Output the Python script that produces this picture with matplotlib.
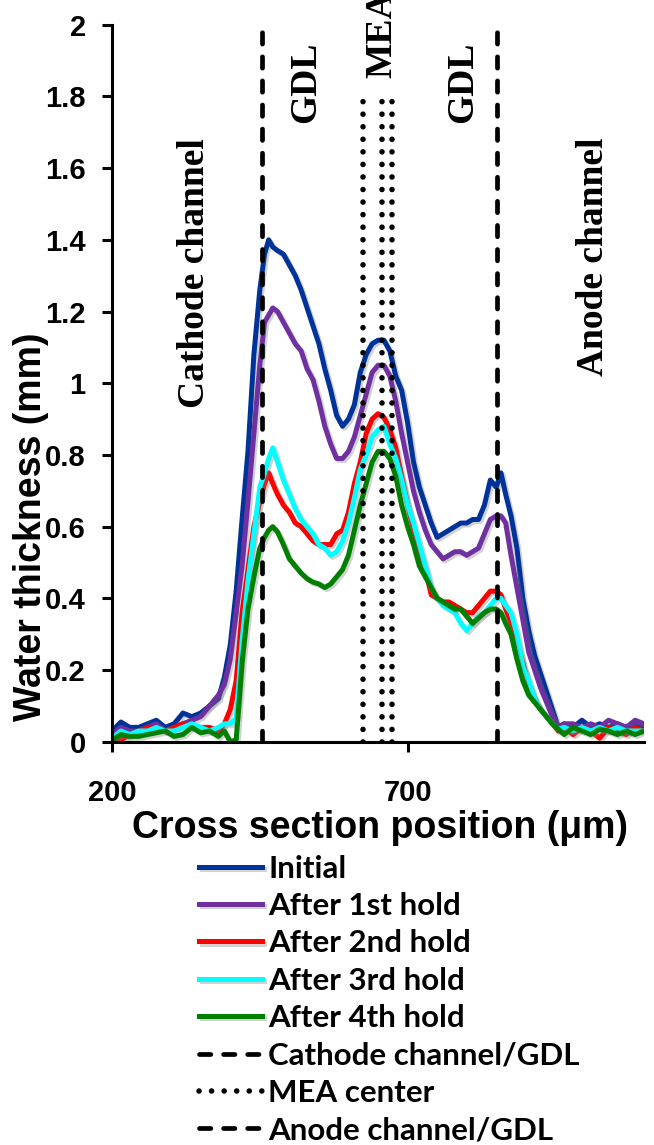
import matplotlib
matplotlib.use("Agg")
import matplotlib.pyplot as plt
import matplotlib.patheffects as pe

# cross section position (um)
pos = [200, 215, 230, 245, 260, 275, 290, 305, 320, 335, 350, 365, 380, 390,
       400, 410, 420, 430, 440, 450, 458, 465, 472, 480, 490, 500, 510, 520,
       530, 540, 550, 560, 570, 580, 590, 600, 610, 620, 630, 640, 650, 660,
       670, 680, 690, 700, 710, 720, 730, 740, 750, 760, 770, 780, 790, 800,
       810, 820, 830, 840, 850, 858, 866, 875, 885, 895, 905, 915, 925, 935,
       945, 955, 965, 980, 995, 1010, 1025, 1040, 1055, 1070, 1085, 1100]

initial = [0.03, 0.055, 0.04, 0.04, 0.05, 0.06, 0.04, 0.05, 0.08, 0.07, 0.08, 0.10, 0.12, 0.18,
           0.27, 0.42, 0.62, 0.81, 1.08, 1.26, 1.36, 1.40, 1.38, 1.37, 1.36, 1.33, 1.30, 1.26,
           1.21, 1.16, 1.11, 1.04, 0.98, 0.91, 0.88, 0.90, 0.94, 1.03, 1.08, 1.11, 1.12, 1.12,
           1.09, 1.02, 0.98, 0.89, 0.78, 0.71, 0.66, 0.61, 0.57, 0.58, 0.59, 0.60, 0.61, 0.61,
           0.62, 0.62, 0.66, 0.73, 0.71, 0.75, 0.69, 0.63, 0.54, 0.40, 0.31, 0.24, 0.19, 0.14,
           0.09, 0.04, 0.05, 0.04, 0.06, 0.04, 0.05, 0.04, 0.05, 0.04, 0.05, 0.04]

hold1 = [0.02, 0.04, 0.03, 0.03, 0.04, 0.05, 0.03, 0.04, 0.05, 0.06, 0.07, 0.10, 0.13, 0.16,
         0.23, 0.36, 0.49, 0.67, 0.86, 1.05, 1.17, 1.19, 1.21, 1.20, 1.17, 1.14, 1.11, 1.09,
         1.04, 1.01, 0.95, 0.88, 0.83, 0.79, 0.79, 0.81, 0.85, 0.91, 0.97, 1.03, 1.05, 1.05,
         1.02, 0.95, 0.86, 0.78, 0.70, 0.64, 0.59, 0.55, 0.53, 0.51, 0.52, 0.53, 0.53, 0.52,
         0.53, 0.54, 0.58, 0.62, 0.63, 0.63, 0.61, 0.52, 0.43, 0.34, 0.25, 0.20, 0.15, 0.11,
         0.07, 0.04, 0.05, 0.05, 0.04, 0.05, 0.04, 0.06, 0.05, 0.04, 0.06, 0.05]

hold2 = [0.01, 0.005, 0.02, 0.03, 0.04, 0.04, 0.03, 0.04, 0.05, 0.04, 0.04, 0.04, 0.03, 0.05,
         0.09, 0.17, 0.36, 0.48, 0.60, 0.67, 0.72, 0.75, 0.72, 0.69, 0.66, 0.64, 0.61, 0.60,
         0.58, 0.56, 0.55, 0.55, 0.55, 0.58, 0.59, 0.64, 0.72, 0.78, 0.86, 0.90, 0.915, 0.905,
         0.87, 0.82, 0.74, 0.66, 0.59, 0.53, 0.48, 0.41, 0.40, 0.39, 0.39, 0.38, 0.37, 0.36,
         0.36, 0.38, 0.40, 0.42, 0.42, 0.41, 0.37, 0.33, 0.28, 0.22, 0.16, 0.12, 0.09, 0.07,
         0.05, 0.03, 0.04, 0.02, 0.04, 0.03, 0.01, 0.04, 0.03, 0.02, 0.04, 0.03]

hold3 = [0.01, 0.03, 0.02, 0.03, 0.03, 0.04, 0.03, 0.03, 0.04, 0.05, 0.04, 0.03, 0.04, 0.05,
         0.05, 0.065, 0.28, 0.45, 0.58, 0.71, 0.75, 0.79, 0.82, 0.78, 0.73, 0.69, 0.65, 0.62,
         0.60, 0.58, 0.55, 0.54, 0.52, 0.53, 0.56, 0.61, 0.68, 0.76, 0.80, 0.85, 0.87, 0.88,
         0.83, 0.79, 0.73, 0.66, 0.61, 0.55, 0.49, 0.43, 0.40, 0.38, 0.37, 0.36, 0.33, 0.31,
         0.33, 0.35, 0.36, 0.38, 0.40, 0.40, 0.38, 0.36, 0.30, 0.21, 0.17, 0.12, 0.09, 0.07,
         0.05, 0.035, 0.04, 0.03, 0.04, 0.03, 0.04, 0.03, 0.04, 0.03, 0.03, 0.03]

hold4 = [0.005, 0.02, 0.015, 0.015, 0.02, 0.025, 0.03, 0.015, 0.02, 0.04, 0.025, 0.03, 0.015, 0.03,
         0.0, 0.005, 0.22, 0.37, 0.46, 0.54, 0.57, 0.59, 0.60, 0.585, 0.55, 0.51, 0.49, 0.47,
         0.455, 0.445, 0.44, 0.43, 0.44, 0.46, 0.48, 0.52, 0.59, 0.66, 0.72, 0.78, 0.81, 0.81,
         0.79, 0.74, 0.66, 0.60, 0.55, 0.49, 0.46, 0.43, 0.40, 0.39, 0.38, 0.37, 0.37, 0.35,
         0.33, 0.345, 0.36, 0.37, 0.37, 0.36, 0.33, 0.30, 0.23, 0.17, 0.13, 0.11, 0.09, 0.07,
         0.05, 0.035, 0.02, 0.04, 0.03, 0.02, 0.035, 0.03, 0.02, 0.03, 0.02, 0.03]

series_names = ["Initial", "After 1st hold", "After 2nd hold", "After 3rd hold", "After 4th hold"]
series_colors = ["#003399", "#7030A0", "#FF0000", "#00FFFF", "#008000"]

# boundaries
cathode_gdl = 454
anode_gdl = 851
mea_lines = [625, 656, 673]
mea_top = 1.79

yticks = [0, 0.2, 0.4, 0.6, 0.8, 1, 1.2, 1.4, 1.6, 1.8, 2]
ytick_labels = ["0", "0.2", "0.4", "0.6", "0.8", "1", "1.2", "1.4", "1.6", "1.8", "2"]
xticks = [200, 700]

fig = plt.figure(figsize=(6.54, 11.45), dpi=100)
ax = fig.add_axes([0.1713, 0.3522, 0.8134, 0.6262])

shadow = [pe.SimpleLineShadow(offset=(1.5, -1.5), shadow_color="gray", alpha=0.35), pe.Normal()]
handles = []
for vals, name, col in zip([initial, hold1, hold2, hold3, hold4], series_names, series_colors):
    ln, = ax.plot(pos, vals, color=col, lw=3.6, label=name, solid_joinstyle="round",
                  path_effects=shadow)
    handles.append(ln)

dash = dict(color="black", lw=3.4, linestyle=(0, (2.4, 2.7)), dash_capstyle="round")
dots = dict(color="black", lw=4.0, linestyle=(0, (0.01, 2.25)), dash_capstyle="round")
h_c, = ax.plot([cathode_gdl, cathode_gdl], [0, 2], label="Cathode channel/GDL", **dash)
for i, xm in enumerate(mea_lines):
    h, = ax.plot([xm, xm], [0, mea_top], label="MEA center" if i == 0 else None, **dots)
    if i == 0:
        h_m = h
h_a, = ax.plot([anode_gdl, anode_gdl], [0, 2], label="Anode channel/GDL", **dash)

ax.set_xlim(200, 1100)
ax.set_ylim(0, 2)
ax.set_yticks(yticks)
ax.set_yticklabels(ytick_labels)
ax.set_xticks(xticks)
ax.set_xticklabels([str(t) for t in xticks])
for s in ["top", "right"]:
    ax.spines[s].set_visible(False)
for s in ["left", "bottom"]:
    ax.spines[s].set_linewidth(2.2)
ax.tick_params(axis="both", direction="out", length=7, width=2.2, labelsize=21)
ax.tick_params(axis="y", pad=12)
ax.tick_params(axis="x", pad=20)
for lab in ax.get_xticklabels() + ax.get_yticklabels():
    lab.set_fontfamily("Liberation Sans")
    lab.set_fontweight("bold")

serif = dict(family="Liberation Serif", weight="bold", fontsize=27, rotation=90,
             ha="center", va="center", clip_on=False)
ax.text(340, 1.307, "Cathode channel", **serif)
ax.text(527, 1.84, "GDL", **serif)
ax.text(656, 1.974, "MEA", **serif)
ax.text(793, 1.84, "GDL", **serif)
ax.text(1015, 1.352, "Anode channel", **serif)

fig.text(0.047, 0.54, "Water thickness (mm)", rotation=90, ha="center", va="center",
         family="Liberation Sans", weight="bold", fontsize=27)
fig.text(0.581, 0.277, "Cross section position (\u03bcm)", ha="center", va="center",
         family="Liberation Sans", weight="bold", fontsize=27)

leg = fig.legend(handles=handles + [h_c, h_m, h_a], loc="upper left",
                 bbox_to_anchor=(0.305, 0.2536), frameon=False, borderpad=0,
                 borderaxespad=0, handlelength=2.0, handletextpad=0.2,
                 labelspacing=0.3, prop=dict(family="Lato", weight="bold", size=22.5))

fig.savefig("out.png", dpi=100)
